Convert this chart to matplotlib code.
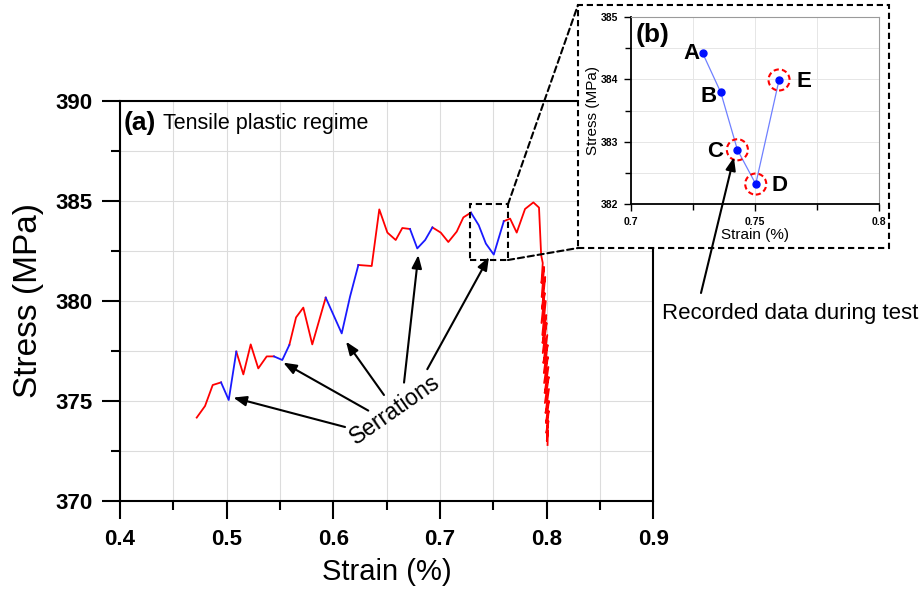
import numpy as np
import matplotlib
matplotlib.use('Agg')
import matplotlib.pyplot as plt
from matplotlib.patches import Rectangle, ConnectionPatch
from matplotlib.ticker import MultipleLocator, FixedLocator

plt.rcParams['font.family'] = ['Liberation Sans', 'DejaVu Sans']
plt.rcParams['path.simplify'] = False

# ---------------------------
# Datos
# ---------------------------
strain = [0.4719, 0.4797, 0.4869, 0.4947, 0.5019, 0.5090, 0.5156, 0.5225, 0.5296, 0.5375,
          0.5443, 0.5521, 0.5587, 0.5650, 0.5718, 0.5802, 0.5928, 0.6078, 0.6156, 0.6234,
          0.6359, 0.6430, 0.6506, 0.6584, 0.6646, 0.6718, 0.6786, 0.6860, 0.6928, 0.7006,
          0.7077, 0.7156, 0.7218, 0.7289, 0.7362, 0.7429, 0.7503, 0.7597, 0.7656, 0.7718,
          0.7796, 0.7874, 0.7927,
          # caída final (ruido)
          0.7947, 0.7962, 0.7950, 0.7975, 0.7952, 0.7985, 0.7955, 0.7980, 0.7950, 0.7990,
          0.7958, 0.7995, 0.7960, 0.7998, 0.7962, 0.8005, 0.7968, 0.8008, 0.7972, 0.8010,
          0.7975, 0.8015, 0.7980, 0.8018, 0.7982, 0.8020, 0.7988, 0.8020, 0.7992, 0.8018,
          0.7996, 0.8015, 0.8000, 0.8010, 0.8007]
stress = [374.17, 374.75, 375.80, 375.93, 375.05, 377.47, 376.33, 377.83, 376.63, 377.23,
          377.23, 377.05, 377.80, 379.18, 379.67, 377.83, 380.17, 378.38, 380.22, 381.80,
          381.75, 384.58, 383.42, 383.05, 383.65, 383.60, 382.63, 383.05, 383.68, 383.42,
          382.95, 383.47, 384.18, 384.42, 383.79, 382.87, 382.32, 383.99, 384.12, 383.42,
          384.60, 384.93, 384.67,
          382.30, 381.90, 380.90, 381.70, 380.20, 381.20, 379.60, 380.40, 378.90, 380.00,
          378.30, 379.30, 377.90, 378.90, 377.40, 378.30, 376.90, 377.80, 376.40, 377.20,
          375.90, 376.70, 375.40, 376.20, 374.90, 375.60, 374.40, 375.00, 373.90, 374.50,
          373.40, 374.00, 373.00, 373.50, 372.80]

# Tramos con serraciones (índices inicial y final, inclusivos)
serration_segments = [(3, 5), (10, 12), (16, 19), (25, 28), (33, 37)]

# Puntos del detalle (b)
detail_labels = ['A', 'B', 'C', 'D', 'E']
detail_strain = [0.7289, 0.7362, 0.7429, 0.7503, 0.7597]
detail_stress = [384.42, 383.79, 382.87, 382.32, 383.99]
detail_label_x = [0.7242, 0.7312, 0.7339, 0.7597, 0.7699]
detail_label_y = [384.42, 383.72, 382.84, 382.30, 383.96]
circled = ['C', 'D', 'E']

# Flechas "Serrations": (punta, cola)
arrow_tips = [(0.5062, 375.17), (0.5530, 376.92), (0.6118, 377.97), (0.6796, 382.30), (0.7458, 382.20)]
arrow_tails = [(0.6109, 373.70), (0.6327, 374.52), (0.6474, 375.30), (0.6662, 375.92), (0.6880, 376.59)]

x_ticks = [0.4, 0.5, 0.6, 0.7, 0.8, 0.9]
x_ticklabels = ['0.4', '0.5', '0.6', '0.7', '0.8', '0.9']
y_ticks = [370, 375, 380, 385, 390]
y_ticklabels = ['370', '375', '380', '385', '390']
inset_x_ticks = [0.7, 0.75, 0.8]
inset_x_ticklabels = ['0.7', '0.75', '0.8']
inset_y_ticks = [382, 383, 384, 385]
inset_y_ticklabels = ['382', '383', '384', '385']

# recuadro de zoom en el gráfico principal
zoom_box = (0.7277, 382.05, 0.7636, 384.83)

red = '#ff0000'
blue = '#1a1aff'
grid_col = '#dcdcdc'

# ---------------------------
# Figura principal
# ---------------------------
fig = plt.figure(figsize=(9.23, 5.96), dpi=100)
ax = fig.add_axes([120/923, 1-501/596, 533.5/923, 400/596])

# tramos rojos = complemento de los tramos azules
bounds = [0] + [i for seg in serration_segments for i in seg] + [len(strain) - 1]
for k in range(0, len(bounds), 2):
    i0, i1 = bounds[k], bounds[k + 1]
    ax.plot(strain[i0:i1+1], stress[i0:i1+1], color=red, lw=1.3, zorder=3,
            solid_joinstyle='round')
for i0, i1 in serration_segments:
    ax.plot(strain[i0:i1+1], stress[i0:i1+1], color=blue, lw=1.3, zorder=4)

ax.set_xlim(0.4, 0.9)
ax.set_ylim(370, 390)
ax.xaxis.set_major_locator(FixedLocator(x_ticks))
ax.set_xticklabels(x_ticklabels)
ax.yaxis.set_major_locator(FixedLocator(y_ticks))
ax.set_yticklabels(y_ticklabels)
ax.xaxis.set_minor_locator(MultipleLocator(0.05))
ax.yaxis.set_minor_locator(MultipleLocator(2.5))
ax.grid(which='both', color=grid_col, lw=0.8, zorder=0)
ax.set_axisbelow(True)
for s in ax.spines.values():
    s.set_linewidth(1.5)
ax.tick_params(which='major', direction='out', length=13, width=1.5, pad=7,
               labelsize=16)
ax.tick_params(which='minor', direction='out', length=6.5, width=1.5)
for lbl in ax.get_xticklabels() + ax.get_yticklabels():
    lbl.set_fontweight('bold')
ax.set_xlabel('Strain (%)', fontsize=21, labelpad=6)
ax.set_ylabel('Stress (MPa)', fontsize=24, labelpad=8)

ax.text(0.006, 0.945, '(a)', transform=ax.transAxes, fontsize=19, fontweight='bold',
        ha='left', va='center')
ax.text(0.081, 0.945, 'Tensile plastic regime', transform=ax.transAxes, fontsize=15.5,
        ha='left', va='center')

# Flechas de serraciones
for tip, tail in zip(arrow_tips, arrow_tails):
    ax.annotate('', xy=tip, xytext=tail,
                arrowprops=dict(arrowstyle='-|>,head_length=0.65,head_width=0.25',
                                color='black', lw=1.5, mutation_scale=12,
                                shrinkA=0, shrinkB=0), zorder=6)
ax.text(0.6577, 374.55, 'Serrations', fontsize=16.5, rotation=35,
        ha='center', va='center', zorder=6)

# Recuadro de zoom
dash = (0, (3, 1.8))
x0, y0, x1, y1 = zoom_box
ax.add_patch(Rectangle((x0, y0), x1 - x0, y1 - y0, fill=False, ec='black', lw=1.5,
                       ls=dash, zorder=5))

# ---------------------------
# Inset (b)
# ---------------------------
frame = Rectangle((578/923, 1-248/596), 311/923, 243/596, transform=fig.transFigure,
                  fc='white', ec='black', lw=1.5, ls=dash, zorder=2)
fig.add_artist(frame)

for (xa, ya), yb in [((x1, y1), 1-5/596), ((x1, y0), 1-248/596)]:
    con = ConnectionPatch(xyA=(xa, ya), coordsA=ax.transData,
                          xyB=(578/923, yb), coordsB=fig.transFigure,
                          color='black', lw=1.5, ls=dash)
    con.set_zorder(2.5)
    fig.add_artist(con)

axi = fig.add_axes([631/923, 1-204/596, 248/923, 187/596])
axi.set_zorder(3)
axi.plot(detail_strain, detail_stress, color='#6f80ff', lw=0.9, zorder=3)
axi.plot(detail_strain, detail_stress, 'o', color='#0010ff', ms=5, zorder=4)
for lab, xs, ys in zip(detail_labels, detail_strain, detail_stress):
    if lab in circled:
        axi.scatter([xs], [ys], s=230, facecolors='none', edgecolors='red',
                    linewidths=1.5, linestyles=(0, (2.5, 1.5)), zorder=5)
for lab, lx, ly in zip(detail_labels, detail_label_x, detail_label_y):
    axi.text(lx, ly, lab, fontsize=16, fontweight='bold', ha='center', va='center')

axi.set_xlim(0.7, 0.8)
axi.set_ylim(382, 385)
axi.xaxis.set_major_locator(FixedLocator(inset_x_ticks))
axi.set_xticklabels(inset_x_ticklabels)
axi.yaxis.set_major_locator(FixedLocator(inset_y_ticks))
axi.set_yticklabels(inset_y_ticklabels)
axi.xaxis.set_minor_locator(MultipleLocator(0.025))
axi.yaxis.set_minor_locator(MultipleLocator(0.5))
axi.grid(which='both', color='#e6e6e6', lw=0.7)
axi.set_axisbelow(True)
axi.spines['left'].set_linewidth(1.3)
axi.spines['bottom'].set_linewidth(1.3)
axi.spines['top'].set_color('#9a9a9a')
axi.spines['right'].set_color('#9a9a9a')
axi.spines['top'].set_linewidth(0.8)
axi.spines['right'].set_linewidth(0.8)
axi.tick_params(which='major', direction='out', length=5, width=1.0, pad=4, labelsize=7.5)
axi.tick_params(which='minor', direction='out', length=4, width=1.0)
for lbl in axi.get_xticklabels() + axi.get_yticklabels():
    lbl.set_fontweight('bold')
axi.set_xlabel('Strain (%)', fontsize=11, labelpad=1)
axi.set_ylabel('Stress (MPa)', fontsize=11, labelpad=1)
axi.text(0.02, 0.904, '(b)', transform=axi.transAxes, fontsize=19, fontweight='bold',
         ha='left', va='center')

# Flecha "Recorded data during test"
rec = ConnectionPatch(xyA=(701/923, 303/596), coordsA=fig.transFigure,
                      xyB=(0.7415, 382.75), coordsB=axi.transData,
                      arrowstyle='-|>,head_length=0.65,head_width=0.25',
                      mutation_scale=12, color='black', lw=1.5,
                      shrinkA=0, shrinkB=0)
rec.set_zorder(10)
fig.add_artist(rec)
fig.text(790/923, 283/596, 'Recorded data during test', fontsize=16,
         ha='center', va='center')

fig.savefig('out.png', dpi=100)
